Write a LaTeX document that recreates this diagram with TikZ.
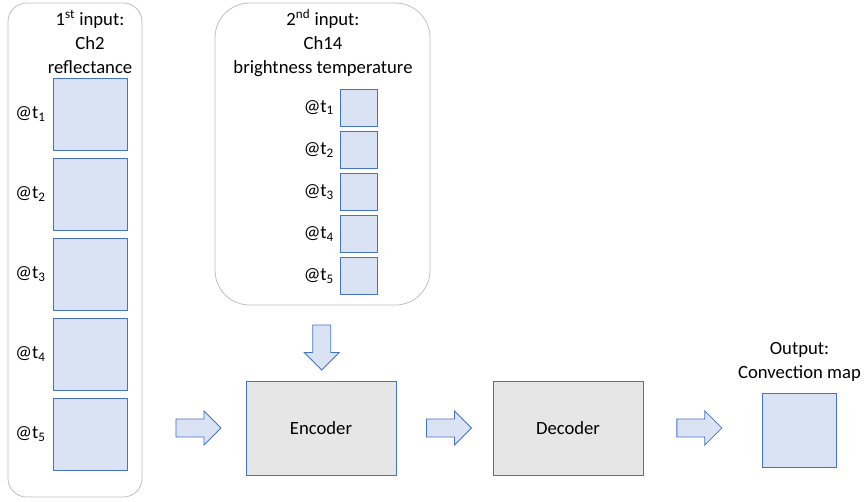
\documentclass[tikz,border=0pt]{standalone}
\usepackage{fontspec}
\setmainfont{Carlito}
\usetikzlibrary{positioning,calc,shapes.arrows}

\definecolor{lineblue}{HTML}{4472C4}
\definecolor{cellblue}{HTML}{DAE3F3}
\definecolor{blockgray}{HTML}{E6E6E6}
\definecolor{panelgray}{HTML}{BFBFBF}

\tikzset{
	panel/.style={draw=panelgray, fill=white, line width=0.6pt, inner sep=0pt},
	bigcell/.style={draw=lineblue, fill=cellblue, line width=0.6pt, inner sep=0pt,
		minimum width=55.5pt, minimum height=54pt},
	smallcell/.style={draw=lineblue, fill=cellblue, line width=0.6pt, inner sep=0pt,
		minimum width=27.75pt, minimum height=27.75pt},
	block/.style={draw=lineblue, fill=blockgray, line width=0.6pt,
		minimum width=112.5pt, minimum height=70.5pt},
	fatarrow/.style={single arrow, draw=lineblue, fill=cellblue, line width=0.6pt,
		inner xsep=0pt, inner ysep=6.4pt, minimum height=33.75pt,
		single arrow head extend=6.1pt, single arrow tip angle=90},
	title/.style={align=center, font=\fontsize{14pt}{18pt}\selectfont},
	stamp/.style={inner sep=1pt, font=\fontsize{14pt}{17pt}\selectfont}
}

\begin{document}
\begin{tikzpicture}[x=0.75pt, y=-0.75pt]
	\useasboundingbox (0,0) rectangle (866,501);
	% first input panel
	\node[panel, rounded corners=14pt, minimum width=100.5pt, minimum height=370.5pt] (panA) at (75,250) {};
	\node[title] (titA) at (90,42) {1\textsuperscript{st} input:\\Ch2\\reflectance};
	\node[bigcell] (a1) at (90,114) {};
	\foreach \i [count=\j from 1] in {2,...,5}
		\node[bigcell, below=5.4pt of a\j] (a\i) {};
	\foreach \i in {1,...,5}
		\node[stamp, left=4pt of a\i] (la\i) {@t\textsubscript{\i}};
	% second input panel
	\node[panel, rounded corners=26pt, minimum width=161.25pt, minimum height=226.5pt] (panB) at (322.5,154) {};
	\node[title] (titB) at (323,43) {2\textsuperscript{nd} input:\\Ch14\\brightness temperature};
	\node[smallcell] (b1) at (358.5,107.5) {};
	\foreach \i [count=\j from 1] in {2,...,5}
		\node[smallcell, below=3.3pt of b\j] (b\i) {};
	\foreach \i in {1,...,5}
		\node[stamp, left=3pt of b\i] (lb\i) {@t\textsubscript{\i}};
	% network
	\node[block, title] (enc) at (321,428) {Encoder};
	\node[block, title] (dec) at (568,428) {Decoder};
	\node[bigcell, minimum width=55pt, minimum height=55.5pt] (out) at (799.5,430) {};
	\node[title, above=5pt of out] (titC) {Output:\\Convection map};
	%
	\node[fatarrow] (ar1) at ($(panA.east |- enc.west)!0.5!(enc.west)$) {};
	\node[fatarrow] (ar2) at ($(enc.east)!0.5!(dec.west)$) {};
	\node[fatarrow, xshift=-6pt] (ar3) at ($(dec.east)!0.5!(out.west |- dec.east)$) {};
	\node[fatarrow, rotate=-90, single arrow head extend=6.4pt] (ar0) at ($(panB.south)!0.5!(enc.north)$) {};
\end{tikzpicture}
\end{document}
